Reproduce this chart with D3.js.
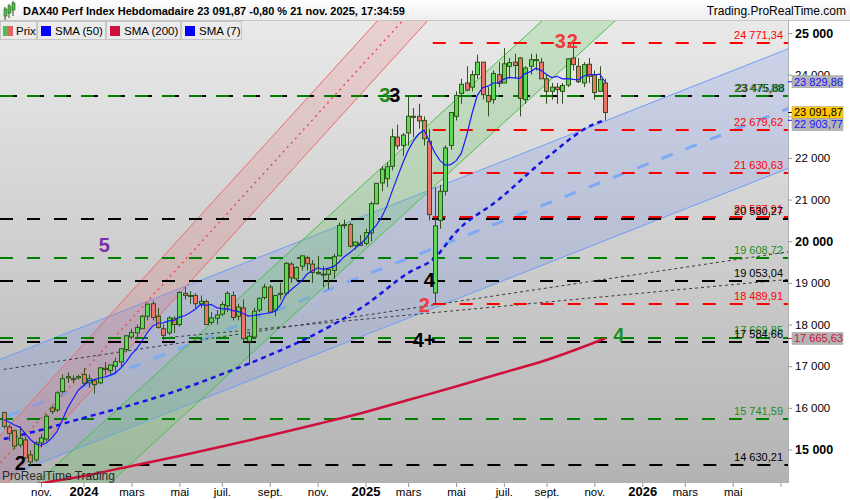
<!DOCTYPE html>
<html><head><meta charset="utf-8">
<script src="https://cdn.jsdelivr.net/npm/d3@7/dist/d3.min.js"></script>
<style>
html,body{margin:0;padding:0;background:#fff;}
svg{display:block;font-family:"Liberation Sans",Arial,sans-serif;}
</style></head><body>
<svg width="850" height="500"></svg>
<script>
// ---------------- DATA ----------------
const weeks=["2023-09-18","2023-09-25","2023-10-02","2023-10-09","2023-10-16","2023-10-23","2023-10-30","2023-11-06","2023-11-13","2023-11-20","2023-11-27","2023-12-04","2023-12-11","2023-12-18","2023-12-25",
"2024-01-01","2024-01-08","2024-01-15","2024-01-22","2024-01-29","2024-02-05","2024-02-12","2024-02-19","2024-02-26","2024-03-04","2024-03-11","2024-03-18","2024-03-25","2024-04-01","2024-04-08","2024-04-15","2024-04-22","2024-04-29","2024-05-06","2024-05-13","2024-05-20","2024-05-27","2024-06-03","2024-06-10","2024-06-17","2024-06-24","2024-07-01","2024-07-08","2024-07-15","2024-07-22","2024-07-29","2024-08-05","2024-08-12","2024-08-19","2024-08-26","2024-09-02","2024-09-09","2024-09-16","2024-09-23","2024-09-30","2024-10-07","2024-10-14","2024-10-21","2024-10-28","2024-11-04","2024-11-11","2024-11-18","2024-11-25","2024-12-02","2024-12-09","2024-12-16","2024-12-23","2024-12-30",
"2025-01-06","2025-01-13","2025-01-20","2025-01-27","2025-02-03","2025-02-10","2025-02-17","2025-02-24","2025-03-03","2025-03-10","2025-03-17","2025-03-24","2025-03-31","2025-04-07","2025-04-14","2025-04-21","2025-04-28","2025-05-05","2025-05-12","2025-05-19","2025-05-26","2025-06-02","2025-06-09","2025-06-16","2025-06-23","2025-06-30","2025-07-07","2025-07-14","2025-07-21","2025-07-28","2025-08-04","2025-08-11","2025-08-18","2025-08-25","2025-09-01","2025-09-08","2025-09-15","2025-09-22","2025-09-29","2025-10-06","2025-10-13","2025-10-20","2025-10-27","2025-11-03","2025-11-10","2025-11-17"];
const open=[15890,15540,15450,15110,15230,14870,14750,15160,15250,16000,15950,16390,16720,16700,16720,
16800,16600,16650,16600,16950,16900,17000,17100,17400,17700,17800,17900,18200,18500,18200,17900,17800,18150,18000,18750,18700,18700,18500,18550,18050,18150,18250,18450,18700,18200,18400,17600,17700,18350,18650,18900,18350,18750,18750,19450,19100,19400,19600,19450,19250,19200,19200,19300,19650,20400,20400,19900,19950,
19950,20200,20900,21400,21500,21800,22500,22300,22600,23000,23000,22900,22400,18760,20500,21200,22300,23000,23550,23800,23700,24000,24300,23500,23400,24000,23800,24200,24300,24400,23400,24200,24350,24300,23900,23600,23700,23600,23750,24400,24200,23800,24250,24000,23600,23800];
const high=[15900,15600,15480,15560,15300,14980,15200,15370,15850,16050,16400,16800,16850,16780,16800,
16960,16800,16700,16980,17100,17030,17200,17420,17750,17900,18000,18230,18500,18570,18400,18000,18200,18200,18800,18900,18800,18750,18700,18600,18300,18350,18550,18800,18800,18500,18600,17800,18400,18650,18980,18950,18700,19000,19500,19500,19400,19650,19650,19550,19650,19400,19350,19700,20450,20520,20450,20000,20150,
20300,20950,21400,21800,21900,22700,22800,22600,23476,23200,23300,23000,22700,21300,21350,22300,23100,23600,23900,24200,24100,24479,24300,23700,24100,24300,24640,24400,24500,24420,24200,24500,24500,24400,24000,23800,23800,23800,24400,24771,24400,24300,24400,24100,24200,23900];
const low=[15500,15200,15000,15050,14780,14630,14700,15050,15200,15850,15900,16350,16600,16600,16680,
16520,16480,16340,16570,16800,16800,16850,17000,17350,17650,17700,17900,18100,18100,17900,17630,17750,17800,17950,18600,18500,18400,18400,18000,18000,18000,18200,18300,18100,18100,17600,17025,17650,18300,18600,18300,18200,18600,18700,19000,19050,19300,19300,19000,19200,18900,18850,19100,19650,20300,19850,19800,19900,
19900,20000,20900,21200,21300,21700,22200,22050,22300,22500,22700,22300,20500,18490,20300,21100,22200,22900,23300,23600,23600,23900,23400,23000,23300,23700,23800,23900,23900,23000,23300,24000,24100,23900,23300,23400,23300,23300,23700,24100,23800,23700,23800,23400,23600,22900];
const close=[15557,15387,15080,15270,14800,14700,15160,15280,15800,15910,16360,16700,16750,16700,16750,
16590,16700,16560,16960,16920,17030,17110,17420,17730,17810,17930,18200,18490,18170,17930,17740,18160,18000,18770,18700,18690,18500,18560,18000,18160,18230,18480,18750,18170,18420,17660,17720,18320,18630,18900,18300,18700,18720,19470,19120,19370,19650,19460,19250,19220,19210,19320,19630,20380,20400,19880,19980,19900,
20210,20900,21390,21730,21790,22510,22290,22550,23000,22990,22890,22460,20640,20370,21200,22240,23090,23500,23770,23630,24000,24300,23520,23350,24030,23790,24260,24290,24220,23430,24160,24360,24360,23900,23600,23700,23640,23740,24380,24240,23830,24240,23960,23570,23880,23091.87];
const sma7=[15722,15659,15589,15538,15389,15241,15136,15097,15156,15274,15430,15701,15994,16214,16424,16537,16650,16679,16716,16740,
16787,16839,16957,17104,17283,17421,17604,17813,17964,18037,18039,18089,18099,18180,18210,18284,18366,18483,18460,18483,
18406,18374,18383,18336,18316,18267,18204,18217,18239,18260,18279,18319,18470,18720,18834,18940,19047,19213,19291,19363,
19326,19354,19391,19496,19630,19720,19829,19927,20054,20236,20380,20570,20843,21204,21546,21880,22180,22409,22574,22670,
22403,22129,21936,21827,21841,21929,22116,22543,23061,23504,23687,23724,23800,23803,23893,23934,23923,23910,24026,24073,
24154,24103,24004,23930,23960,23900,23903,23886,23876,23967,24004,23994,24014,23829.86];
const sma50Dates=["2023-09-18","2023-11-06","2024-01-01","2024-03-04","2024-05-06","2024-07-01","2024-09-02","2024-11-04","2025-01-06","2025-03-03","2025-04-07","2025-05-05","2025-06-30","2025-09-01","2025-11-03","2025-11-17"];
const sma50Values=[15250,15470,15760,16070,16430,16810,17270,17800,18470,19240,19600,20220,21000,22000,22815,22903.77];
const sma200Dates=["2023-09-18","2023-11-06","2024-01-01","2024-03-04","2024-05-06","2024-07-01","2024-09-02","2024-11-04","2025-01-06","2025-03-03","2025-05-05","2025-07-07","2025-09-01","2025-11-17"];
const sma200Values=[14004,14184,14364,14604,14844,15072,15336,15612,15900,16188,16512,16849,17149,17665.63];

// horizontal levels
const levelValues=[24771.34,23475.88,22679.62,21630.63,20587.91,20530.27,19608.72,19053.04,18489.91,17669.85,17584.66,15741.59,14630.21];
const levelKinds=["red","greenblack","red","red","red","black","green","black","red","green","black","green","black"];
const levelStarts=["2025-04-07",null,"2025-04-07","2025-04-07","2025-04-07",null,null,null,"2025-04-07",null,null,null,"2023-10-23"];

// trend channels (two anchor dates, upper-edge prices, channel height in points)
const blueDates=["2023-09-18","2025-11-17"], blueUpper=[17199,22887], blueWidth=2870;
const redDates=["2023-09-18","2024-11-04"], redUpper=[15425,23713], redWidth=1320;
const greenDates=["2024-07-01","2025-11-17"], greenUpper=[18260,26673], greenWidth=1603;
// dotted trend lines
const dot1Dates=["2023-09-18","2025-11-17"], dot1Values=[16923,19087];
const dot2Dates=["2024-04-15","2025-11-17"], dot2Values=[17677,18671];

// axis ticks
const xTickDates=["2023-11-06","2024-01-01","2024-03-04","2024-05-06","2024-07-01","2024-09-02","2024-11-04","2025-01-06","2025-03-03","2025-05-05","2025-07-07","2025-09-01","2025-11-03","2026-01-05","2026-03-02","2026-05-04","2026-07-06"];
const xTickLabels=["nov.","2024","mars","mai","juil.","sept.","nov.","2025","mars","mai","juil.","sept.","nov.","2026","mars","mai",""];
const yTicks=[15000,16000,17000,18000,19000,20000,21000,22000,23000,24000,25000];

// right-side value tags
const tagValues=[23829.86,23091.87,22903.77,17665.63];
const tagKinds=["sma7","price","sma50","sma200"];

// annotations (text, anchor date, anchor price)
const noteTexts=["2","5","3","3","3","2","4","2","4+","4"];
const noteDates=["2023-10-09","2024-01-29","2025-01-20","2025-01-20","2025-09-08","2025-09-08","2025-04-07","2025-04-07","2025-04-07","2025-11-24"];
const notePrices=[14510,19742,23343,23343,24640,24640,18902,18301,17461,17581];
const noteKinds=["black","purple","green","black","red","red","black","red","black","green"];

// ---------------- CHART ----------------
const parse=d3.utcParse("%Y-%m-%d");
const PL=0,PR=788,PT=21,PB=483;
const x=d3.scaleUtc().domain([parse("2023-11-06"),parse("2025-11-17")]).range([41,605]);
const y=d3.scaleLinear().domain([15000,25000]).range([449.5,33]);
const loc=d3.formatLocale({decimal:",",thousands:" ",grouping:[3],currency:["",""]});
const fmt2=loc.format(",.2f"), fmt0=loc.format(",.0f");

const svg=d3.select("svg");
const defs=svg.append("defs");
const pbg=defs.append("linearGradient").attr("id","pbg").attr("x1",0).attr("y1",0).attr("x2",0).attr("y2",1);
pbg.append("stop").attr("offset","0%").attr("stop-color","#e9e9e9");
pbg.append("stop").attr("offset","100%").attr("stop-color","#b3b3b3");
const tbg=defs.append("linearGradient").attr("id","tbg").attr("x1",0).attr("y1",0).attr("x2",0).attr("y2",1);
tbg.append("stop").attr("offset","0%").attr("stop-color","#ffffff");
tbg.append("stop").attr("offset","100%").attr("stop-color","#ededed");
defs.append("clipPath").attr("id","clip").append("rect").attr("x",PL).attr("y",PT).attr("width",PR-PL).attr("height",PB-PT);

svg.append("rect").attr("width",850).attr("height",500).attr("fill","#fff");
svg.append("rect").attr("width",850).attr("height",PT).attr("fill","url(#tbg)");
svg.append("line").attr("x1",0).attr("x2",850).attr("y1",PT-0.5).attr("y2",PT-0.5).attr("stroke","#c4c4c4");
svg.append("rect").attr("x",PL).attr("y",PT).attr("width",PR-PL).attr("height",PB-PT).attr("fill","url(#pbg)");

const g=svg.append("g").attr("clip-path","url(#clip)");

// channels
const XA=-40,XB=830;
function chan(dates,upper,width){
  const x1=x(parse(dates[0])),x2=x(parse(dates[1]));
  const f=off=>{const y1=y(upper[0]-off),y2=y(upper[1]-off),m=(y2-y1)/(x2-x1);return px=>y1+m*(px-x1);};
  return {up:f(0),mid:f(width/2),lo:f(width)};
}
function drawChan(c,fill,edge,mid){
  g.append("path").attr("d",`M${XA},${c.up(XA)}L${XB},${c.up(XB)}L${XB},${c.lo(XB)}L${XA},${c.lo(XA)}Z`).attr("fill",fill);
  [c.up,c.lo].forEach(f=>g.append("line").attr("x1",XA).attr("y1",f(XA)).attr("x2",XB).attr("y2",f(XB)).attr("stroke",edge).attr("stroke-width",1));
  if(mid) g.append("line").attr("x1",XA).attr("y1",c.mid(XA)).attr("x2",XB).attr("y2",c.mid(XB))
    .attr("stroke",mid.color).attr("stroke-width",mid.w).attr("stroke-dasharray",mid.dash);
}
drawChan(chan(blueDates,blueUpper,blueWidth),"rgba(80,115,235,0.17)","#6f9ff5",{color:"#7ea9f3",w:3,dash:"12,14"});
drawChan(chan(greenDates,greenUpper,greenWidth),"rgba(90,200,90,0.24)","#48c048",null);
drawChan(chan(redDates,redUpper,redWidth),"rgba(235,90,90,0.17)","#ec6a6a",{color:"#e65050",w:1.5,dash:"2,4"});

// dotted trend lines
function segLine(dates,vals,color){
  const x1=x(parse(dates[0])),x2=x(parse(dates[1])),y1=y(vals[0]),y2=y(vals[1]),m=(y2-y1)/(x2-x1);
  g.append("line").attr("x1",x1).attr("y1",y1).attr("x2",XB).attr("y2",y1+m*(XB-x1))
    .attr("stroke",color).attr("stroke-width",1).attr("stroke-dasharray","3,3");
}
segLine(dot1Dates,dot1Values,"#3a3a3a");
segLine(dot2Dates,dot2Values,"#3a3a3a");

// horizontal levels
const levelStyle={red:"#ff0000",green:"#008000",black:"#000000",greenblack:"#008000"};
levelValues.forEach((v,i)=>{
  const k=levelKinds[i];
  const x0=levelStarts[i]?x(parse(levelStarts[i]))-2:0;
  const yy=Math.round(y(v));
  if(k==="greenblack"){
    g.append("line").attr("x1",x0).attr("x2",PR).attr("y1",yy).attr("y2",yy).attr("stroke","#008000").attr("stroke-width",2).attr("stroke-dasharray","13,14");
    g.append("line").attr("x1",x0).attr("x2",PR).attr("y1",yy).attr("y2",yy).attr("stroke","#000").attr("stroke-width",2).attr("stroke-dasharray","4,23").attr("stroke-dashoffset",-13);
  } else {
    g.append("line").attr("x1",x0).attr("x2",PR).attr("y1",yy).attr("y2",yy).attr("stroke",levelStyle[k]).attr("stroke-width",2).attr("stroke-dasharray","13,14");
  }
});

// SMA 200 & 50
const lineGen=d3.line().x(d=>x(parse(d[0]))).y(d=>y(d[1])).curve(d3.curveMonotoneX);
g.append("path").attr("d",lineGen(d3.zip(sma200Dates,sma200Values))).attr("fill","none").attr("stroke","#d0103c").attr("stroke-width",2.5);
g.append("path").attr("d",lineGen(d3.zip(sma50Dates,sma50Values))).attr("fill","none").attr("stroke","#1414e6").attr("stroke-width",2.5).attr("stroke-dasharray","5,4");

// candles
const cg=g.append("g");
weeks.forEach((w,i)=>{
  const cx=Math.round(x(parse(w)));
  const up=close[i]>=open[i];
  cg.append("line").attr("x1",cx+0.5).attr("x2",cx+0.5).attr("y1",y(high[i])).attr("y2",y(low[i])).attr("stroke","#2e5418").attr("stroke-width",1);
  const yt=y(Math.max(open[i],close[i])),yb=y(Math.min(open[i],close[i]));
  cg.append("rect").attr("x",cx-1.5).attr("y",yt).attr("width",4).attr("height",Math.max(1,yb-yt))
    .attr("fill",up?"#5fd85a":"#ec7468").attr("stroke","#2e5418").attr("stroke-width",1);
});

// SMA 7
g.append("path").attr("d",d3.line().x((d,i)=>x(parse(weeks[i]))).y(d=>y(d))(sma7)).attr("fill","none").attr("stroke","#1a1aff").attr("stroke-width",1.2);

// level labels
const labColor={red:"#ff0000",green:"#1e8c1e",black:"#000"};
levelValues.forEach((v,i)=>{
  const k=levelKinds[i], yy=Math.round(y(v))-4;
  if(k==="greenblack"){
    g.append("text").attr("x",784.5).attr("y",yy).attr("text-anchor","end").attr("font-size",11).attr("fill","#000").text(fmt2(v));
    g.append("text").attr("x",783).attr("y",yy).attr("text-anchor","end").attr("font-size",11).attr("fill","#1e8c1e").text(fmt2(v));
  } else {
    g.append("text").attr("x",783).attr("y",yy).attr("text-anchor","end").attr("font-size",11).attr("fill",labColor[k]).text(fmt2(v));
  }
});

// annotations
const noteColor={black:"#000",purple:"#7a2ea8",green:"#1e8c1e",red:"#f03c3c"};
const noteDx=[-5,-6,3,13,3,15,-11,-16,-22,3];
noteTexts.forEach((t,i)=>{
  g.append("text").attr("x",x(parse(noteDates[i]))+noteDx[i]).attr("y",y(notePrices[i]))
    .attr("font-size",20).attr("font-weight","bold").attr("fill",noteColor[noteKinds[i]]).text(t);
});

g.append("text").attr("x",2).attr("y",480).attr("font-size",12).attr("fill","#2a2a2a").text("ProRealTime Trading");

// axes
const xAxis=svg.append("g").attr("transform",`translate(0,${PB})`)
  .call(d3.axisBottom(x).tickValues(xTickDates.map(parse)).tickSize(4).tickFormat((d,i)=>xTickLabels[i]));
xAxis.select(".domain").remove();
xAxis.selectAll(".tick line").attr("stroke","#9a9a9a");
xAxis.selectAll(".tick text").attr("dy",null).attr("y",13).attr("fill","#000").attr("font-family","Liberation Sans, Arial, sans-serif")
  .attr("font-size",(d,i)=>/^\d{4}$/.test(xTickLabels[i])?13:11.5)
  .attr("font-weight",(d,i)=>/^\d{4}$/.test(xTickLabels[i])?"bold":"normal");

svg.append("line").attr("x1",PR+0.5).attr("x2",PR+0.5).attr("y1",PT).attr("y2",PB).attr("stroke","#b0b0b0");
const yAxis=svg.append("g").attr("transform",`translate(${PR},0)`)
  .call(d3.axisRight(y).tickValues(yTicks).tickSize(4).tickPadding(3).tickFormat(d=>fmt0(d)));
yAxis.select(".domain").remove();
yAxis.selectAll(".tick line").attr("stroke","#9a9a9a");
yAxis.selectAll(".tick text").attr("fill","#000").attr("font-family","Liberation Sans, Arial, sans-serif")
  .attr("font-size",d=>d%5000===0?12.5:11.5).attr("font-weight",d=>d%5000===0?"bold":"normal");

// right tags
const tagStyle={sma7:{bg:"#b4b4b4",fg:"#1414ff"},price:{bg:"#ffc800",fg:"#000"},sma50:{bg:"#b4b4b4",fg:"#1414ff"},sma200:{bg:"#b4b4b4",fg:"#d0103c"}};
let prevBottom=-1e9;
tagValues.map((v,i)=>({v,k:tagKinds[i]})).sort((a,b)=>b.v-a.v).forEach(t=>{
  const h=12; let top=y(t.v)-h/2; if(top<prevBottom) top=prevBottom; prevBottom=top+h;
  const st=tagStyle[t.k];
  svg.append("line").attr("x1",PR).attr("x2",PR+5).attr("y1",y(t.v)).attr("y2",y(t.v)).attr("stroke",st.fg);
  svg.append("rect").attr("x",PR+4).attr("y",top).attr("width",51).attr("height",h).attr("fill",st.bg).attr("stroke","#9c9c9c").attr("stroke-width",0.5);
  svg.append("text").attr("x",PR+6).attr("y",top+h-2).attr("font-size",11).attr("fill",st.fg).text(fmt2(t.v));
});

// title
const icon=svg.append("g");
[[4,9,14,"#4fc04f"],[8,6,12,"#4fc04f"],[12,3,10,"#4fc04f"]].forEach(d=>{
  icon.append("line").attr("x1",d[0]+1).attr("x2",d[0]+1).attr("y1",d[1]-2).attr("y2",d[1]+d[2]-d[1]+6).attr("stroke","#2e5418");
  icon.append("rect").attr("x",d[0]).attr("y",d[1]).attr("width",3).attr("height",7).attr("fill",d[3]).attr("stroke","#2e5418").attr("stroke-width",0.6);
});
svg.append("text").attr("x",23).attr("y",15).attr("font-size",11).attr("font-weight","bold").attr("fill","#000")
  .text("DAX40 Perf Index Hebdomadaire 23 091,87 -0,80 % 21 nov. 2025, 17:34:59");
svg.append("text").attr("x",846).attr("y",15).attr("text-anchor","end").attr("font-size",12).attr("fill","#000").text("Trading.ProRealTime.com");

// legend
const legItems=[{t:"Prix",c:null,w:37},{t:"SMA (50)",c:"#0000ff",w:69},{t:"SMA (200)",c:"#d0103c",w:75},{t:"SMA (7)",c:"#0000ff",w:61}];
let lx=0;
legItems.forEach(it=>{
  const lg=svg.append("g").attr("transform",`translate(${lx},${PT})`);
  lg.append("rect").attr("x",0.5).attr("y",0.5).attr("width",it.w-1).attr("height",18).attr("fill","#ebebeb").attr("stroke","#c6c6c6");
  if(it.c){ lg.append("rect").attr("x",4).attr("y",5).attr("width",10).attr("height",10).attr("fill",it.c); }
  else { lg.append("rect").attr("x",3).attr("y",5).attr("width",5).attr("height",10).attr("fill","#4fc04f");
         lg.append("rect").attr("x",8).attr("y",5).attr("width",5).attr("height",10).attr("fill","#e06464"); }
  lg.append("text").attr("x",it.c?18:16).attr("y",14).attr("font-size",11.5).attr("fill","#000").text(it.t);
  lx+=it.w;
});
</script></body></html>
